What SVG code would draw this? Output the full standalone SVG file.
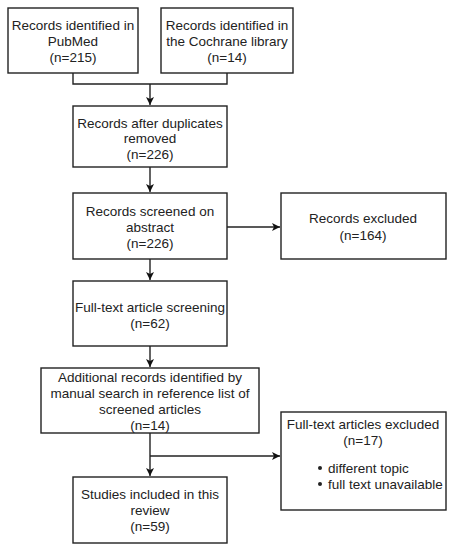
<svg xmlns="http://www.w3.org/2000/svg" width="452" height="550" viewBox="0 0 452 550">
<defs>
<marker id="ah" markerWidth="10" markerHeight="10" refX="9" refY="5" orient="auto" markerUnits="userSpaceOnUse">
<path d="M1,1 L9,5 L1,9 L3,5 Z" fill="#111"/>
</marker>
<style>
rect{fill:#fff;stroke:#222;stroke-width:1.4}
text{font-family:"Liberation Sans",Arial,sans-serif;font-size:13.5px;fill:#222;text-anchor:middle}
.c path{fill:none;stroke:#222;stroke-width:1.4}
.l{text-anchor:start}
</style>
</defs>
<rect x="0" y="0" width="452" height="550" style="fill:#fff;stroke:none"/>
<g class="c" id="connectors">
<path d="M73,73 V84 H227 V73"/>
<path d="M150,84 V105" marker-end="url(#ah)"/>
<path d="M150,167 V192" marker-end="url(#ah)"/>
<path d="M227,227 H280" marker-end="url(#ah)"/>
<path d="M150,259 V280" marker-end="url(#ah)"/>
<path d="M150,346 V367" marker-end="url(#ah)"/>
<path d="M150,433 V476" marker-end="url(#ah)"/>
<path d="M150,456 H280" marker-end="url(#ah)"/>
</g>
<g id="n1"><rect x="8" y="8" width="130" height="65"/>
<text x="73" y="30">Records identified in</text><text x="73" y="46">PubMed</text><text x="73" y="62">(n=215)</text></g>
<g id="n2"><rect x="161" y="8" width="132" height="65"/>
<text x="227" y="30">Records identified in</text><text x="227" y="46">the Cochrane library</text><text x="227" y="62">(n=14)</text></g>
<g id="n3"><rect x="73" y="106" width="154" height="61"/>
<text x="150" y="128">Records after duplicates</text><text x="150" y="143">removed</text><text x="150" y="159">(n=226)</text></g>
<g id="n4"><rect x="73" y="193" width="154" height="66"/>
<text x="150" y="216">Records screened on</text><text x="150" y="232">abstract</text><text x="150" y="248">(n=226)</text></g>
<g id="n5"><rect x="281" y="193" width="165" height="66"/>
<text x="363" y="223">Records excluded</text><text x="363" y="240">(n=164)</text></g>
<g id="n6"><rect x="73" y="281" width="154" height="65"/>
<text x="150" y="312">Full-text article screening</text><text x="150" y="328">(n=62)</text></g>
<g id="n7"><rect x="41" y="368" width="218" height="65"/>
<text x="150" y="382">Additional records identified by</text><text x="150" y="398">manual search in reference list of</text><text x="150" y="414">screened articles</text><text x="150" y="430">(n=14)</text></g>
<g id="n8"><rect x="281" y="412" width="165" height="98"/>
<text x="363" y="429">Full-text articles excluded</text><text x="363" y="445">(n=17)</text>
<circle cx="320" cy="468" r="2" fill="#222"/><text class="l" x="328" y="473">different topic</text>
<circle cx="320" cy="484" r="2" fill="#222"/><text class="l" x="328" y="489">full text unavailable</text></g>
<g id="n9"><rect x="73" y="477" width="154" height="66"/>
<text x="150" y="499">Studies included in this</text><text x="150" y="515">review</text><text x="150" y="531">(n=59)</text></g>
</svg>
